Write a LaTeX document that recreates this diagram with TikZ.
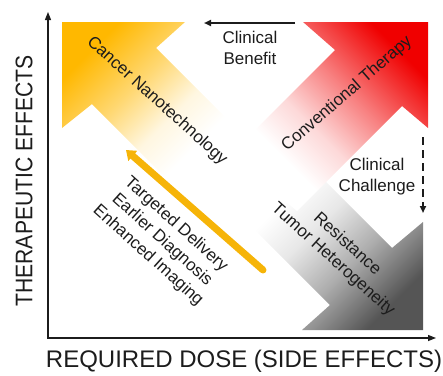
\documentclass[tikz,border=0pt]{standalone}
\usepackage{fontspec}
\setmainfont{Liberation Sans}
\usepackage{xcolor}
\usetikzlibrary{arrows.meta, positioning, calc}

\definecolor{nanoyellow}{RGB}{255,184,0}
\definecolor{deliveryline}{RGB}{246,180,8}
\definecolor{convred}{RGB}{240,0,0}
\definecolor{resgray}{RGB}{85,85,85}
\definecolor{textgray}{RGB}{28,28,28}

% fades: white on the left, full colour on the right
\pgfdeclarehorizontalshading{nanofade}{100bp}{color(0bp)=(white); color(38bp)=(white);
    color(48bp)=(nanoyellow!12); color(60bp)=(nanoyellow!55); color(75bp)=(nanoyellow); color(100bp)=(nanoyellow)}
\pgfdeclarehorizontalshading{convfade}{100bp}{color(0bp)=(white); color(34bp)=(white);
    color(45bp)=(convred!15); color(58bp)=(convred!50); color(75bp)=(convred); color(100bp)=(convred)}
\pgfdeclarehorizontalshading{resfade}{100bp}{color(0bp)=(white); color(36bp)=(white);
    color(47bp)=(resgray!14); color(60bp)=(resgray!48); color(75bp)=(resgray); color(100bp)=(resgray)}

\begin{document}
\begin{tikzpicture}[
    x=1pt, y=-1pt,
    label/.style={font=\fontsize{17}{21}\selectfont, text=textgray, align=center, inner sep=0pt},
    axislabel/.style={font=\fontsize{24}{28}\selectfont, text=textgray, inner sep=0pt},
    axis/.style={{Triangle[length=8pt, width=6pt]}-{Triangle[length=8pt, width=6pt]}, line width=1.3pt, textgray},
    arrow/.style={-{Triangle[length=7pt, width=6pt]}, line width=1.8pt, textgray}
]
\useasboundingbox (0,0) rectangle (443,375);

% Resistance arrow
\shade[shading=resfade, shading angle=-45]
    (423,330) -- (302,330) -- (330,305) -- (225,200) -- (287,143) -- (392,248) -- (423,222) -- cycle;

% Conventional therapy arrow
\shade[shading=convfade, shading angle=45]
    (428,22) -- (428,128) -- (402,106) -- (297,211) -- (230,155) -- (335,50) -- (303,22) -- cycle;

% Cancer nanotechnology arrow
\shade[shading=nanofade, shading angle=135]
    (62,22) -- (185,22) -- (156,48) -- (261,153) -- (197,209) -- (92,104) -- (62,128) -- cycle;

% Axes
\coordinate (origin) at (48,338);
\coordinate (ytop) at (48,12);
\coordinate (xend) at (436,338);
\draw[axis] (ytop) -- (origin) -- (xend);

\node[axislabel, rotate=90, xscale=0.88] (yaxis) at (24,181) {THERAPEUTIC EFFECTS};
\node[axislabel] (xaxis) at (244,361) {REQUIRED DOSE (SIDE EFFECTS)};

% Arrow labels
\node[label, rotate=-42] (nano) at (157,101) {Cancer Nanotechnology};
\node[label, rotate=41] (conv) at (347,94) {Conventional Therapy};
\node[label, rotate=-42] (gains) at (162,240) {Targeted Delivery\\Earlier Diagnosis\\Enhanced Imaging};
\node[label, rotate=-42] (resist) at (340,252) {Resistance\\Tumor Heterogeneity};

% Clinical benefit
\node[label] (benefit) at (250,48) {Clinical\\Benefit};
\coordinate (benR) at (295,23);
\coordinate (benL) at (204,23);
\draw[arrow] (benR) -- (benL);

% Clinical challenge
\node[label] (challenge) at (377,177) {Clinical\\Challenge};
\coordinate (chTop) at (423,137);
\coordinate (chBot) at (423,213);
\draw[arrow, dash pattern=on 8pt off 5pt] (chTop) -- (chBot);

% Delivery arrow
\coordinate (delTail) at (263,270);
\coordinate (delHead) at (126,150);
\draw[deliveryline, line width=7pt, line cap=round, -{Triangle[length=9pt, width=13pt]}] (delTail) -- (delHead);

\end{tikzpicture}
\end{document}
